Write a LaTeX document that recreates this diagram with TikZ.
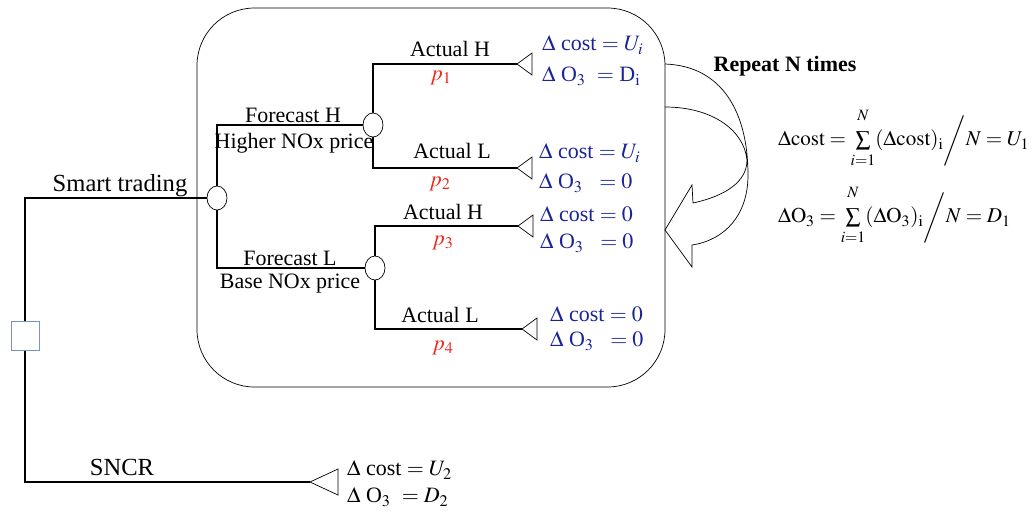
\documentclass[tikz,border=0pt]{standalone}
\usepackage{amsmath}
\usepackage{mathptmx}
\usepackage{fontspec}
\setmainfont{Liberation Serif}
\usepackage{tikz}
\usetikzlibrary{arrows.meta,positioning,calc,shapes.geometric}
\definecolor{outblue}{RGB}{25,35,150}
\definecolor{probred}{RGB}{235,40,30}
\definecolor{sqblue}{RGB}{120,150,190}
\newcommand{\avgsum}{\mathop{\sum}\limits^{\raisebox{4pt}{$\scriptstyle N$}}_{\raisebox{-2pt}{$\scriptstyle i=1$}}}

\begin{document}
\begin{tikzpicture}[
    x=0.02cm, y=-0.02cm,
    every node/.style={font=\fontsize{12.5}{14}\selectfont, inner sep=1pt},
    biglabel/.style={font=\fontsize{14}{16}\selectfont},
    chance/.style={draw, ellipse, fill=white, minimum width=0.4cm, minimum height=0.48cm, inner sep=0pt},
    decision/.style={draw=sqblue, fill=white, minimum width=0.56cm, minimum height=0.58cm, inner sep=0pt},
    branch/.style={draw, thick},
    outtxt/.style={text=outblue, anchor=west},
    prob/.style={text=probred},
    avg/.style={anchor=west, font=\fontsize{12}{14}\selectfont},
]
\useasboundingbox (0,0) rectangle (1036,512);

% cycle box
\draw[rounded corners=1.15cm] (197,8) rectangle (665,387);

% nodes of the tree
\node[decision] (sq) at (25,336) {};
\node[chance] (c0) at (217,198) {};
\node[chance] (ch) at (373,125) {};
\node[chance] (cl) at (375,268) {};
\coordinate (t1) at (517,64);
\coordinate (t2) at (517,168);
\coordinate (t3) at (518,226);
\coordinate (t4) at (522,329);
\coordinate (t0) at (310,482);

% end points
\foreach \t/\w/\h in {t1/15/11, t2/15/11, t3/15/11, t4/15/11, t0/28/13}
    \draw (\t) -- ++(\w,-\h) -- ++(0,2*\h) -- cycle;

% branches
\draw[branch] (sq.north) |- (c0.west);
\draw[branch] (sq.south) |- (t0);
\draw[branch] (c0.north) |- (ch.west);
\draw[branch] (c0.south) |- (cl.west);
\draw[branch] (ch.north) |- (t1);
\draw[branch] (ch.south) |- (t2);
\draw[branch] (cl.north) |- (t3);
\draw[branch] (cl.south) |- (t4);

% branch labels
\node[biglabel] (smart) at (120,186) {Smart trading};
\node[biglabel] (sncr) at (122,467) {SNCR};
\node (fh) at (293,115) {Forecast H};
\node (fhp) at (294,143) {Higher NOx price};
\node (fl) at (290,258) {Forecast L};
\node (flp) at (290,284) {Base NOx price};
\node (a1) at (450,49) {Actual H};
\node (a2) at (452,151) {Actual L};
\node (a3) at (443,212) {Actual H};
\node (a4) at (440,315) {Actual L};
\node[prob] (p1) at (441,78) {$p_1$};
\node[prob] (p2) at (440,184) {$p_2$};
\node[prob] (p3) at (443,243) {$p_3$};
\node[prob] (p4) at (443,348) {$p_4$};

% outcomes
\node[outtxt] (o1c) at (540,45) {$\Delta$ cost $= U_i$};
\node[outtxt] (o1o) at (540,76) {$\Delta$ O$_3$\ \ $=$ D$_{\mathrm{i}}$};
\node[outtxt] (o2c) at (537,153) {$\Delta$ cost $= U_i$};
\node[outtxt] (o2o) at (537,183) {$\Delta$ O$_3$\ \ \ $=0$};
\node[outtxt] (o3c) at (538,214) {$\Delta$ cost $=0$};
\node[outtxt] (o3o) at (538,243) {$\Delta$ O$_3$\ \ \ $=0$};
\node[outtxt] (o4c) at (548,314) {$\Delta$ cost $=0$};
\node[outtxt] (o4o) at (548,341) {$\Delta$ O$_3$\ \ \ $=0$};
\node[anchor=west] (o0c) at (345,470) {$\Delta$ cost $= U_2$};
\node[anchor=west] (o0o) at (345,497) {$\Delta$ O$_3$\ \ $= D_2$};

% repeat arrow
\draw (665,64) .. controls (722,66) and (748,112) .. (748,175)
    .. controls (748,215) and (725,240) .. (692,245)
    -- (692,267) -- (665,230) -- (692,185) -- (693,203)
    .. controls (725,196) and (747,182) .. (747,160)
    .. controls (744,130) and (712,107) .. (665,107);
\node[font=\fontsize{12.5}{14}\selectfont\bfseries] (rep) at (785,66) {Repeat N times};

% averages
\node[avg] (avc) at (776,138) {$\Delta\mathrm{cost} = \avgsum (\Delta\mathrm{cost})_{\mathrm{i}} \bigg/ N = U_1$};
\node[avg] (avo) at (776,215) {$\Delta\mathrm{O}_3 = \avgsum (\Delta\mathrm{O}_3)_{\mathrm{i}} \bigg/ N = D_1$};
\end{tikzpicture}
\end{document}
